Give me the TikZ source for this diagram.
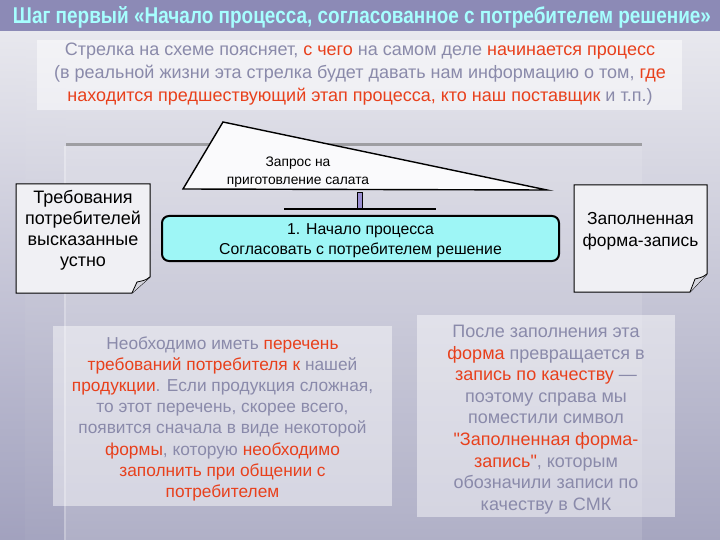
\documentclass[tikz,border=0pt]{standalone}
\usepackage{fontspec}
\setmainfont{Liberation Sans}[Ligatures=TeXOff]
\usepackage{graphicx}
\definecolor{titlebg}{HTML}{8C8AB6}
\definecolor{titlefg}{HTML}{A6FFFF}
\definecolor{txtgray}{HTML}{8A8AAA}
\definecolor{txtred}{HTML}{E8401C}
\definecolor{cyanbox}{HTML}{9EF6F6}
\definecolor{docfill}{HTML}{F0F0F4}
\definecolor{flapfill}{HTML}{D6D6DE}
\definecolor{stemfill}{HTML}{9A8ED2}
\definecolor{bgtop}{HTML}{E8E8EE}
\definecolor{bgbot}{HTML}{A6A6C0}
\newcommand\redt[1]{{\color{txtred}#1}}
\tikzset{
  txt/.style={inner sep=0pt, anchor=base, align=center, text=txtgray},
  docshape/.style={draw=black, line width=1pt, fill=docfill},
  flap/.style={draw=black, line width=0.8pt, fill=flapfill},
}
\begin{document}
\begin{tikzpicture}[x=1pt,y=-1pt]
\useasboundingbox (0,0) rectangle (720,540);
% background
\shade[top color=bgtop, bottom color=bgbot] (0,31) rectangle (720,540);
\shade[top color=bgtop, bottom color=bgbot!80!titlebg, opacity=0.8] (0,31) rectangle (25,540);
\shade[top color=bgtop, bottom color=bgbot!95!titlebg, opacity=0.5] (25,31) rectangle (65,540);
\fill[white, opacity=0.12] (66,146) rectangle (642,540);
\draw[line width=3pt, color=black!32!bgtop] (66,145) -- (642,145);
\draw[line width=1.5pt, color=white, opacity=0.35] (65,146) -- (65,540);
% title bar
\fill[titlebg] (0,0) rectangle (720,31);
\node[inner sep=0pt, anchor=base, text=titlefg] (title) at (362,23.5)
  {\resizebox{698pt}{17pt}{\bfseries Шаг первый «Начало процесса, согласованное с потребителем решение»}};
% top text panel
\fill[white, opacity=0.5] (37,40) rectangle (682,110);
\node[txt, font=\fontsize{18}{23}\selectfont] (toptext) at (360,102)
  {Стрелка на схеме поясняет, \redt{с чего} на самом деле \redt{начинается процесс}\\
   (в реальной жизни эта стрелка будет давать нам информацию о том, \redt{где}\\
   \redt{находится предшествующий этап процесса, кто наш поставщик} и т.п.)};
% triangle (input arrow)
\draw[line width=1.4pt, fill=white!80!bgtop, line join=miter] (183,189) -- (223,122) -- (547,190) -- cycle;
\node[txt, text=black, font=\fontsize{13.8}{18}\selectfont] (request) at (298,184.5)
  {Запрос на\\приготовление салата};
% stem and bar
\node[draw=black, line width=0.8pt, fill=stemfill, minimum width=5pt, minimum height=17pt, inner sep=0pt] (stem) at (360,200.5) {};
\coordinate (barL) at (284,209);
\coordinate (barR) at (436,209);
\draw[line width=1.6pt] (barL) -- (barR);
% process box
\node[draw=black, line width=2pt, fill=cyanbox, rounded corners=7pt, minimum width=397pt, minimum height=45pt] (proc) at (360.5,238.5) {};
\node[txt, text=black, font=\fontsize{15.8}{20}\selectfont] (proctext) at (360.5,254.5)
  {1. Начало процесса\\Согласовать с потребителем решение};
% left document
\draw[docshape] (16,184) -- (150,184) -- (150,277) -- (132,293) -- (16,293) -- cycle;
\draw[flap] (150,277) .. controls (145,281) and (141,281) .. (137,282) -- (132,293);
\node[txt, text=black, font=\fontsize{18}{21.3}\selectfont] (reqdoc) at (83,266.9)
  {Требования\\потребителей\\высказанные\\устно};
% right document
\draw[docshape] (574,185) -- (707,185) -- (707,274) -- (690,292) -- (574,292) -- cycle;
\draw[flap] (707,274) .. controls (702,278) and (698,278) .. (695,279) -- (690,292);
\node[txt, text=black, font=\fontsize{17.4}{21.5}\selectfont] (formdoc) at (640.5,246.5)
  {Заполненная\\форма-запись};
% bottom-left panel
\fill[white, opacity=0.45] (53,326) rectangle (392,506);
\node[txt, font=\fontsize{17.3}{21.2}\selectfont] (leftnote) at (222.5,497.4)
  {Необходимо иметь \redt{перечень}\\
   \redt{требований потребителя к} нашей\\
   \redt{продукции}. Если продукция сложная,\\
   то этот перечень, скорее всего,\\
   появится сначала в виде некоторой\\
   \redt{формы}, которую \redt{необходимо}\\
   \redt{заполнить при общении с}\\
   \redt{потребителем}};
% bottom-right panel
\fill[white, opacity=0.45] (417,315) rectangle (675,517);
\node[txt, font=\fontsize{18}{21.6}\selectfont] (rightnote) at (546,510.3)
  {После заполнения эта\\
   \redt{форма} превращается в\\
   \redt{запись по качеству} —\\
   поэтому справа мы\\
   поместили символ\\
   \redt{"Заполненная форма-}\\
   \redt{запись"}, которым\\
   обозначили записи по\\
   качеству в СМК};
\end{tikzpicture}
\end{document}
